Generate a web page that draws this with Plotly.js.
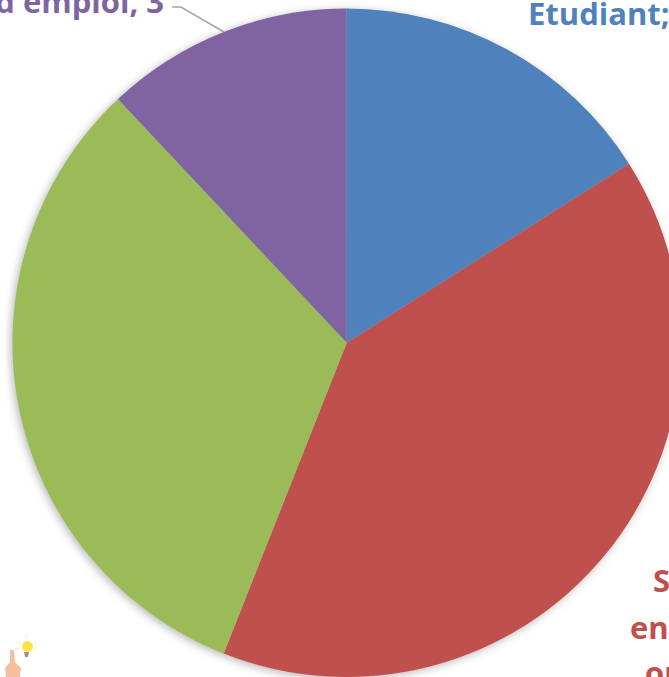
<!DOCTYPE html>
<html><head><meta charset="utf-8">
<script src="https://cdn.plot.ly/plotly-3.0.1.min.js"></script>
<style>
html,body{margin:0;padding:0;width:669px;height:677px;overflow:hidden;background:#fff}
#chart{position:absolute;left:-300px;top:0;width:1400px;height:1000px}
#chart .main-svg:first-of-type{filter:drop-shadow(-2px 2px 4px rgba(0,0,0,.28))}
</style></head><body><div id="chart"></div>
<script>
const categories=["Etudiant","Salarié en entreprise","Autre","Demandeur d emploi"];
const values=[4,10,8,3];
const colors=["#4F81BD","#C0504D","#9BBB59","#8064A2"];
const labelLines=[["Etudiant; 4",526,13,"left",0],["Salarié",651,580,"left",1],["entreprise",628,627,"left",1],["ou cadre; 10",643,672,"left",1],["Demandeur d emploi, 3",166,1,"right",3]];
const W=1400,H=1000,OX=300;
const fx=p=>(p+OX)/W, fy=p=>1-p/H;
const annotations=labelLines.map(l=>({xref:"paper",yref:"paper",x:fx(l[1]),y:fy(l[2]),xanchor:l[3],yanchor:"middle",text:"<b>"+l[0]+"</b>",showarrow:false,font:{family:"Open Sans, sans-serif",size:31,color:colors[l[4]]}}));
const path=pts=>pts.map((p,i)=>(i?"L":"M")+fx(p[0])+","+fy(p[1])).join(" ");
const seg=(a,b,c)=>({type:"path",xref:"paper",yref:"paper",path:path([a,b]),line:{color:c,width:1}});
const shapes=[
 {type:"path",xref:"paper",yref:"paper",path:path([[172,7],[181,7],[224,32]]),line:{color:"#A6A6A6",width:1.5}},
 {type:"circle",xref:"paper",yref:"paper",x0:fx(22),x1:fx(33),y0:fy(652),y1:fy(641),fillcolor:"#FBE54A",line:{width:0}},
 {type:"path",xref:"paper",yref:"paper",path:path([[24,652],[29,652],[28,657],[25,657]])+" Z",fillcolor:"#9A9A80",line:{width:0}},
 seg([17,641],[21,644],"#F5EFA0"),seg([26,635],[27,639],"#F5EFA0"),seg([36,641],[33,644],"#F5EFA0"),seg([15,649],[20,648],"#F5EFA0"),seg([38,648],[34,648],"#F5EFA0"),
 {type:"path",xref:"paper",yref:"paper",path:path([[10,650],[14,650],[15,662],[21,668],[20,677],[6,677],[5,668],[10,662]])+" Z",fillcolor:"#F5BE9E",line:{width:0}}
];
Plotly.newPlot("chart",[{type:"pie",labels:categories,values:values,marker:{colors:colors,line:{width:0}},sort:false,direction:"clockwise",rotation:0,textinfo:"none",hoverinfo:"none",domain:{x:[fx(12.5),fx(681)],y:[fy(677),fy(8.5)]}}],
{width:W,height:H,margin:{l:0,r:0,t:0,b:0},showlegend:false,paper_bgcolor:"rgba(0,0,0,0)",annotations:annotations,shapes:shapes},{staticPlot:true,displayModeBar:false});
</script></body></html>
